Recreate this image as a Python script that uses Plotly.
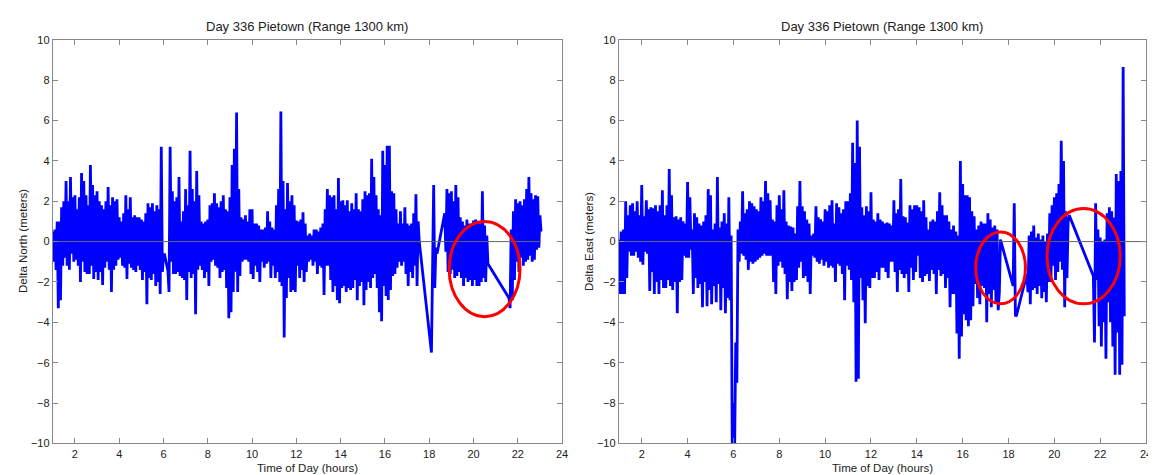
import plotly.graph_objects as go

# ---------------- data (hours sampled every 0.1 h, from 1.0) ----------------
# each sample: upper excursion at t, lower excursion at t + 0.05 ; None = data gap
north_start = 1.0
north_hi = [
    0.5, 0.6, 1.0, 1.0, 1.7, 2.0, 3.0, 2.0, 3.2, 2.2,
    2.3, 1.6, 2.2, 3.4, 3.0, 2.3, 1.8, 3.8, 2.8, 2.3,
    2.5, 2.0, 1.8, 1.6, 2.0, 2.7, 1.8, 2.2, 2.0, 2.1,
    1.2, 1.0, 1.4, 2.3, 1.6, 2.2, 1.2, 1.3, 1.2, 1.2,
    1.1, 1.0, 1.4, 1.9, 1.7, 1.9, 1.5, 1.8, 1.6, 4.7,
    -0.65, None, -1.45, 4.7, 2.5, 2.0, 2.2, 3.2, 1.0, 1.5,
    2.6, 1.8, 4.5, 2.6, 2.0, 3.5, 2.3, 1.0, 0.9, 1.0,
    1.1, 1.8, 1.9, 2.4, 1.9, 1.7, 2.0, 2.3, 1.6, 1.5,
    2.2, 3.8, 4.6, 6.4, 2.6, 1.2, 1.1, 1.3, 1.0, 1.6,
    1.6, 0.9, 0.9, 0.8, 0.6, 0.6, 0.7, 1.5, 1.0, 0.7,
    0.6, 1.8, 2.6, 6.45, 3.0, 1.6, 2.9, 2.0, 2.3, 1.8,
    1.05, 1.0, 1.1, 1.45, 0.9, 0.3, 0.4, 0.3, 0.6, 0.6,
    0.5, 0.7, 0.9, 1.6, 2.6, 2.3, 2.2, 2.3, 1.6, 3.15,
    2.0, 2.05, 1.8, 2.05, 1.5, 1.9, 1.6, 2.4, 1.6, 1.5,
    2.1, 2.5, 2.3, 2.4, 4.1, 3.2, 2.3, 1.6, 1.3, 4.5,
    3.8, 4.75, 4.75, 2.5, 2.4, 1.6, 0.9, 1.5, 0.9, 1.7,
    0.9, 0.8, 0.9, 1.4, 2.35, 1.0, None, None, None, None,
    None, -5.5, 2.8, -0.3, None, None, None, 1.4, 2.6, 2.4,
    2.5, 2.0, 2.8, 2.2, 1.2, 1.0, 0.8, 1.1, 0.9, 0.9,
    1.05, 1.1, 1.0, 0.9, 2.5, 0.8, 0.3, None, None, None,
    None, None, None, None, None, None, -2.8, 0.6, 1.5, 2.1,
    1.9, 2.0, 1.8, 2.1, 2.6, 3.2, 2.4, 2.1, 2.3, 2.25,
    1.3,
]
north_lo = [
    -1.0, -1.4, -3.3, -2.9, -1.2, -0.8, -1.2, -1.4, -0.6, -1.0,
    -0.9, -1.2, -2.0, -1.0, -1.5, -1.6, -1.6, -1.2, -1.85, -1.5,
    -1.9, -1.5, -2.15, -1.3, -1.0, -1.4, -2.5, -1.4, -1.2, -0.9,
    -0.8, -1.2, -1.3, -1.85, -1.1, -1.3, -1.4, -1.5, -1.2, -1.4,
    -1.9, -1.5, -3.1, -1.8, -1.9, -1.6, -2.2, -2.0, -2.6, -1.5,
    -0.65, None, -2.5, -1.0, -1.6, -1.6, -1.5, -1.7, -1.8, -1.9,
    -2.9, -1.5, -1.8, -1.6, -3.6, -1.4, -1.2, -1.4, -1.8, -1.5,
    -2.2, -1.0, -0.9, -1.2, -1.3, -1.8, -1.5, -1.4, -2.3, -3.8,
    -3.5, -2.5, -1.5, -2.5, -1.7, -1.0, -0.9, -0.9, -1.0, -1.6,
    -1.85, -1.2, -1.5, -2.0, -1.0, -1.3, -1.1, -1.0, -1.8, -1.2,
    -1.8, -1.5, -2.0, -2.2, -4.75, -2.8, -1.8, -2.5, -2.4, -2.5,
    -1.2, -1.8, -1.4, -2.0, -1.5, -1.0, -0.9, -1.2, -1.0, -1.6,
    -1.2, -1.3, -2.65, -1.2, -1.2, -1.9, -2.5, -2.2, -2.9, -3.05,
    -2.3, -2.2, -2.5, -2.3, -2.4, -2.3, -1.9, -2.9, -2.2, -2.0,
    -3.15, -2.4, -2.0, -2.3, -1.8, -1.6, -2.3, -3.5, -3.95, -2.2,
    -2.7, -2.9, -2.4, -1.7, -1.6, -1.3, -1.0, -1.2, -1.0, -1.6,
    -2.2, -1.5, -1.8, -1.2, -2.2, 0.0, None, None, None, None,
    None, -1.0, -2.3, -0.6, None, None, None, -0.5, -1.5, -1.6,
    -1.4, -1.8, -1.7, -1.5, -1.8, -2.2, -1.8, -2.0, -1.9, -2.2,
    -1.9, -2.2, -2.2, -2.0, -1.8, -2.0, -1.1, None, None, None,
    None, None, None, None, None, None, -3.3, -2.9, -1.9, -1.0,
    -1.5, -0.8, -1.2, -1.0, -0.9, -0.7, -1.0, -0.9, -0.4, -0.3,
    0.5,
]

east_start = 1.0
east_hi = [
    0.1, 0.5, 0.6, 2.0, 1.3, 1.8, 1.9, 1.5, 2.0, 1.3,
    2.8, 1.25, 2.05, 1.6, 1.7, 1.65, 1.8, 1.5, 1.8, 2.55,
    1.3, 1.8, 3.6, 2.3, 1.2, 1.25, 1.1, 1.2, 1.0, 0.9,
    2.95, 2.2, 0.6, 1.4, 1.2, 0.9, 0.8, 1.0, 1.3, 2.6,
    2.3, 0.6, 0.9, 3.2, 0.7, 1.0, 1.4, 0.9, 2.2, 0.3,
    -8.0, -5.0, 0.6, 1.0, 2.5, 1.4, 1.6, 2.0, 1.9, 1.75,
    1.6, 1.5, 2.2, 2.0, 3.0, 2.4, 2.05, 1.1, 1.0, 1.8,
    2.3, 1.6, 2.55, 1.0, 0.8, 0.75, 0.7, 0.4, 1.75, 3.0,
    1.75, 1.5, 1.1, 0.9, 0.3, 0.4, 1.75, 1.2, 1.1, 1.0,
    1.6, 1.5, 1.8, 2.05, 0.9, 1.9, 1.7, 1.4, 1.6, 2.0,
    2.0, 2.4, 4.9, 3.9, 6.0, 4.7, 1.7, 1.3, 1.75, 1.5,
    2.45, 1.1, 1.0, 1.4, 1.1, 1.0, 0.9, 0.95, 0.9, 0.8,
    2.05, 1.4, 1.6, 3.1, 1.25, 1.2, 0.95, 1.8, 1.6, 1.8,
    1.8, 1.7, 1.5, 2.05, 1.2, 0.6, 1.0, 1.1, 1.0, 1.5,
    2.45, 1.8, 1.3, 1.3, 1.0, 0.6, 0.8, 0.5, 0.3, 4.0,
    2.85, 2.3, 2.3, 2.2, 1.5, 1.25, 0.6, 0.8, 1.0, 0.9,
    0.9, 1.4, 1.1, 0.7, 0.8, 0.6, -2.5, None, None, None,
    None, None, -2.2, -3.7, None, None, None, None, -1.6, 0.3,
    0.5, 0.8, 0.2, 0.4, 0.1, 0.3, 0.0, 0.4, 1.4, 1.8,
    2.2, 2.4, 2.85, 5.0, 4.0, 1.5, 1.0, None, None, None,
    None, None, None, None, None, None, None, -1.7, 1.9, 0.6,
    0.2, 0.0, 0.1, 1.4, 1.7, 1.5, 1.2, 3.35, 3.0, 3.5,
    8.65,
]
east_lo = [
    -2.6, -2.6, -2.6, -1.8, -0.5, -0.7, -0.7, -0.5, -0.8, -1.0,
    -1.15, -0.5, -0.6, -2.45, -1.5, -2.6, -2.0, -2.6, -1.9, -2.3,
    -2.3, -1.9, -2.2, -2.4, -2.0, -3.55, -2.0, -1.9, -0.7, -0.8,
    -0.8, -0.4, -2.6, -1.8, -2.3, -2.1, -3.25, -2.0, -3.2, -2.4,
    -3.1, -2.2, -3.0, -2.1, -3.4, -2.3, -3.55, -2.8, -2.9, -10.5,
    -10.5, -7.0, -1.0, -0.6, -0.7, -0.9, -1.4, -1.0, -1.1, -1.0,
    -0.9, -0.8, -0.7, -0.6, -0.7, -0.7, -0.7, -2.0, -2.6, -1.2,
    -1.0, -1.3, -1.6, -2.85, -2.0, -2.45, -2.0, -1.9, -1.3, -1.0,
    -1.8, -1.7, -2.0, -2.6, -0.7, -0.8, -1.0, -1.1, -0.9, -1.2,
    -1.0, -1.3, -1.2, -1.3, -2.0, -1.1, -1.2, -1.6, -2.9, -1.2,
    -1.4, -1.9, -3.0, -6.95, -6.8, -1.8, -2.9, -4.05, -2.2, -2.3,
    -1.8, -1.8, -1.5, -1.9, -1.3, -1.3, -1.5, -1.8, -1.0, -1.0,
    -1.5, -2.5, -1.4, -1.6, -1.8, -1.6, -2.5, -1.3, -1.9, -1.5,
    -0.7, -1.8, -2.0, -1.7, -1.6, -1.95, -1.4, -1.6, -2.6, -1.4,
    -1.7, -1.6, -2.3, -1.8, -3.25, -2.6, -2.6, -4.55, -5.8, -4.7,
    -3.6, -3.9, -4.2, -3.9, -3.2, -2.1, -2.8, -3.1, -2.2, -2.3,
    -4.0, -2.6, -3.25, -2.4, -3.0, -3.4, 0.1, None, None, None,
    None, None, 1.9, -3.65, None, None, None, None, -2.5, -3.1,
    -2.4, -2.3, -2.6, -2.2, -2.8, -2.5, -3.0, -2.0, -2.0, -1.2,
    -1.9, -1.5, -1.0, -1.4, -3.25, -1.8, 1.3, None, None, None,
    None, None, None, None, None, None, None, -5.0, -1.9, -4.2,
    -5.2, -4.0, -5.8, -3.0, -4.0, -5.2, -6.6, -4.5, -6.6, -6.1,
    -3.7,
]

x_ticks = [2, 4, 6, 8, 10, 12, 14, 16, 18, 20, 22, 24]
y_ticks = [-10, -8, -6, -4, -2, 0, 2, 4, 6, 8, 10]
title_text = "Day 336 Pietown (Range 1300 km)"
x_title = "Time of Day (hours)"
north_title = "Delta North (meters)"
east_title = "Delta East (meters)"

# highlighted regions (hours, meters)
north_marks = [(18.9, 22.1, -3.72, 1.0)]
east_marks = [(16.57, 18.74, -3.08, 0.48), (19.68, 22.87, -3.08, 1.64)]


def interleave(start, hi, lo):
    xs, ys = [], []
    for i, (a, b) in enumerate(zip(hi, lo)):
        t = round(start + 0.1 * i, 3)
        xs += [t, t + 0.05]
        ys += [a, b]
    return xs, ys


FONT = "Liberation Sans, Arial, Helvetica, sans-serif"
W, H = 1156, 475
L1, R1 = 45, 557
L2, R2 = 614, 1144
TOP, BOT = 26.5, 440.5

fig = go.Figure()

nx, ny = interleave(north_start, north_hi, north_lo)
ex, ey = interleave(east_start, east_hi, east_lo)

fig.add_trace(go.Scatter(x=nx, y=ny, mode="lines", connectgaps=True,
                         line=dict(color="#0000ff", width=2.8),
                         xaxis="x", yaxis="y", showlegend=False, hoverinfo="skip"))
fig.add_trace(go.Scatter(x=[1, 23.05], y=[0, 0], mode="lines",
                         line=dict(color="#666666", width=1),
                         xaxis="x", yaxis="y", showlegend=False, hoverinfo="skip"))
fig.add_trace(go.Scatter(x=ex, y=ey, mode="lines", connectgaps=True,
                         line=dict(color="#0000ff", width=2.8),
                         xaxis="x2", yaxis="y2", showlegend=False, hoverinfo="skip"))
fig.add_trace(go.Scatter(x=[1, 24], y=[0, 0], mode="lines",
                         line=dict(color="#666666", width=1),
                         xaxis="x2", yaxis="y2", showlegend=False, hoverinfo="skip"))

axis_common = dict(showline=True, linecolor="#888888", linewidth=1, mirror="ticks",
                   ticks="inside", ticklen=5, tickcolor="#888888", showgrid=False,
                   zeroline=False, tickfont=dict(family=FONT, size=11, color="#222222"))

ydom = [1 - BOT / H, 1 - TOP / H]
fig.update_layout(
    width=W, height=H, margin=dict(l=0, r=0, t=0, b=0),
    paper_bgcolor="white", plot_bgcolor="white",
    xaxis=dict(domain=[L1 / W, R1 / W], range=[1, 24], tickvals=x_ticks, anchor="y", **axis_common),
    yaxis=dict(domain=ydom, range=[-10, 10], tickvals=y_ticks, anchor="x", **axis_common),
    xaxis2=dict(domain=[L2 / W, R2 / W], range=[1, 24], tickvals=x_ticks, anchor="y2", **axis_common),
    yaxis2=dict(domain=ydom, range=[-10, 10], tickvals=y_ticks, anchor="x2", **axis_common),
)

shapes = []
for (x0, x1, y0, y1) in north_marks:
    shapes.append(dict(type="circle", xref="x", yref="y", x0=x0, x1=x1, y0=y0, y1=y1,
                       line=dict(color="#ff0000", width=3)))
for (x0, x1, y0, y1) in east_marks:
    shapes.append(dict(type="circle", xref="x2", yref="y2", x0=x0, x1=x1, y0=y0, y1=y1,
                       line=dict(color="#ff0000", width=3)))
fig.update_layout(shapes=shapes)

ann = []
for (l, r, ytitle, yx) in [(L1, R1, north_title, 15), (L2, R2, east_title, 584)]:
    cx = (l + r) / 2 / W
    ann.append(dict(text=title_text, x=cx, y=1 - 13 / H, xref="paper", yref="paper",
                    showarrow=False, xanchor="center", yanchor="middle",
                    font=dict(family=FONT, size=13, color="#222222")))
    ann.append(dict(text=x_title, x=cx, y=1 - 466 / H, xref="paper", yref="paper",
                    showarrow=False, xanchor="center", yanchor="middle",
                    font=dict(family=FONT, size=11.5, color="#222222")))
    ann.append(dict(text=ytitle, x=yx / W, y=1 - 233 / H, xref="paper", yref="paper",
                    showarrow=False, xanchor="center", yanchor="middle", textangle=-90,
                    font=dict(family=FONT, size=11.5, color="#222222")))
fig.update_layout(annotations=ann)

fig.write_html("out.html")
